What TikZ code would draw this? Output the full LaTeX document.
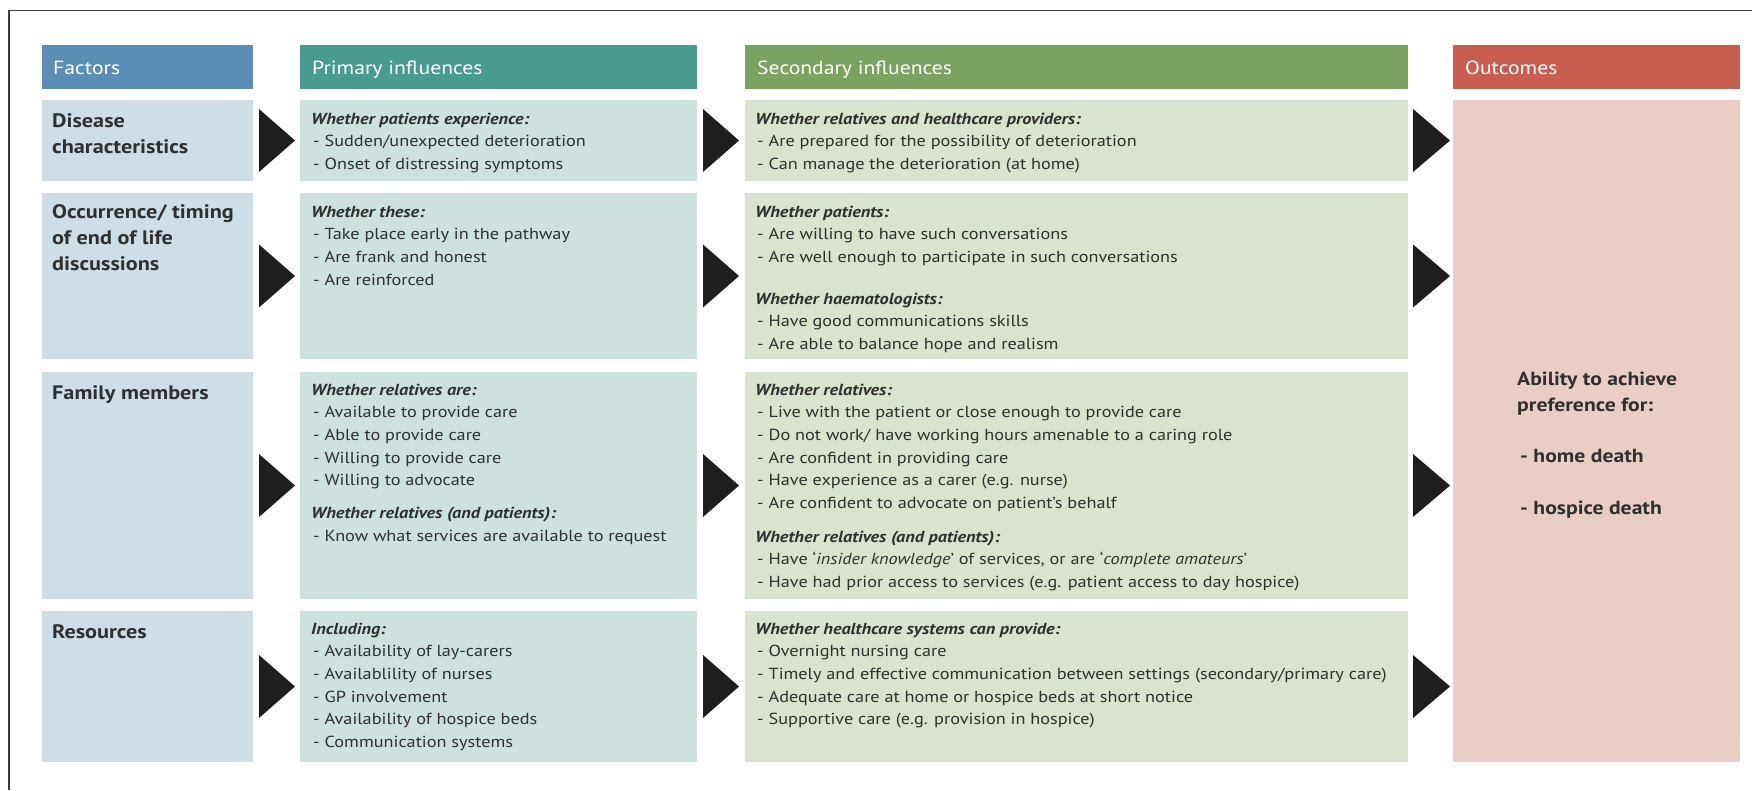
\documentclass[tikz,border=0pt]{standalone}
\usepackage{fontspec}
\setmainfont{PT Sans}[FakeStretch=1.14]
\definecolor{fhead}{HTML}{5B8EB6}
\definecolor{fbody}{HTML}{CFDDE7}
\definecolor{phead}{HTML}{4A9B8F}
\definecolor{pbody}{HTML}{CDE2DE}
\definecolor{shead}{HTML}{7AA260}
\definecolor{sbody}{HTML}{D9E3CF}
\definecolor{ohead}{HTML}{C75E50}
\definecolor{obody}{HTML}{EBCDC8}
\definecolor{txt}{HTML}{2F2F2F}
\definecolor{arrc}{HTML}{1E1E1E}
\definecolor{framec}{HTML}{3C3C3C}
\newcommand{\hd}[1]{\textbf{\textit{#1}}}
\begin{document}
\begin{tikzpicture}[x=1pt,y=-1pt,
  cell/.style={anchor=north west,inner sep=0,outer sep=0,draw=none},
  hdr/.style={anchor=base west,inner sep=0,text=white,font=\fontsize{19}{22}\selectfont},
  ttl/.style={anchor=base west,inner sep=0,text=txt,font=\fontsize{19.5}{26}\selectfont\bfseries},
  body/.style={anchor=base west,inner sep=0,text=txt,font=\fontsize{16}{22.7}\selectfont},
  outc/.style={anchor=base west,inner sep=0,text=txt,font=\fontsize{19}{26}\selectfont\bfseries},
  tri/.style={fill=arrc},
  framel/.style={draw=framec,line width=1.5pt}]
\useasboundingbox (0,0) rectangle (1752,790);
\fill[white] (0,0) rectangle (1752,790);
% frame
\coordinate (fbl) at (9,790);
\coordinate (ftl) at (9,10.7);
\coordinate (ftr) at (1752,10.7);
\draw[framel] (fbl) -- (ftl) -- (ftr);
% headers
\node[cell,fill=fhead,minimum width=211pt,minimum height=44pt] (fh) at (42,45) {};
\node[cell,fill=phead,minimum width=397pt,minimum height=44pt] (ph) at (300,45) {};
\node[cell,fill=shead,minimum width=663pt,minimum height=44pt] (sh) at (745,45) {};
\node[cell,fill=ohead,minimum width=287pt,minimum height=44pt] (oh) at (1453,45) {};
\node[hdr] (fht) at (53,74) {Factors};
\node[hdr] (pht) at (312,74) {Primary influences};
\node[hdr] (sht) at (757,74) {Secondary influences};
\node[hdr] (oht) at (1465,74) {Outcomes};
% factor cells
\node[cell,fill=fbody,minimum width=211pt,minimum height=81pt] (f1) at (42,100) {};
\node[cell,fill=fbody,minimum width=211pt,minimum height=166pt] (f2) at (42,193) {};
\node[cell,fill=fbody,minimum width=211pt,minimum height=227pt] (f3) at (42,372) {};
\node[cell,fill=fbody,minimum width=211pt,minimum height=151pt] (f4) at (42,611) {};
% primary cells
\node[cell,fill=pbody,minimum width=397pt,minimum height=81pt] (p1) at (300,100) {};
\node[cell,fill=pbody,minimum width=397pt,minimum height=166pt] (p2) at (300,193) {};
\node[cell,fill=pbody,minimum width=397pt,minimum height=227pt] (p3) at (300,372) {};
\node[cell,fill=pbody,minimum width=397pt,minimum height=151pt] (p4) at (300,611) {};
% secondary cells
\node[cell,fill=sbody,minimum width=663pt,minimum height=81pt] (s1) at (745,100) {};
\node[cell,fill=sbody,minimum width=663pt,minimum height=166pt] (s2) at (745,193) {};
\node[cell,fill=sbody,minimum width=663pt,minimum height=227pt] (s3) at (745,372) {};
\node[cell,fill=sbody,minimum width=663pt,minimum height=151pt] (s4) at (745,611) {};
% outcome cell
\node[cell,fill=obody,minimum width=287pt,minimum height=662pt] (o1) at (1453,100) {};
% arrows
\foreach \c in {140.5,276,485.5,686.5}{
  \fill[tri] (259,\c-31.5) -- (295,\c) -- (259,\c+31.5) -- cycle;
  \fill[tri] (703,\c-31.5) -- (739,\c) -- (703,\c+31.5) -- cycle;
  \fill[tri] (1413,\c-31.5) -- (1450,\c) -- (1413,\c+31.5) -- cycle;
}
% factor titles
\node[ttl] (f1t) at (52,127) {\begin{minipage}[t]{200pt}Disease\\characteristics\end{minipage}};
\node[ttl] (f2t) at (52,218) {\begin{minipage}[t]{200pt}Occurrence/ timing\\of end of life\\discussions\end{minipage}};
\node[ttl] (f3t) at (52,399) {Family members};
\node[ttl] (f4t) at (52,638) {Resources};
% primary texts
\node[body] (p1t) at (311,124) {\begin{minipage}[t]{390pt}\hd{Whether patients experience:}\\
\hspace*{2pt}- Sudden/unexpected deterioration\\
\hspace*{2pt}- Onset of distressing symptoms\end{minipage}};
\node[body] (p2t) at (311,217) {\begin{minipage}[t]{390pt}\hd{Whether these:}\\
\hspace*{2pt}- Take place early in the pathway\\
\hspace*{2pt}- Are frank and honest\\
\hspace*{2pt}- Are reinforced\end{minipage}};
\node[body] (p3t) at (311,395) {\begin{minipage}[t]{390pt}\hd{Whether relatives are:}\\
\hspace*{2pt}- Available to provide care\\
\hspace*{2pt}- Able to provide care\\
\hspace*{2pt}- Willing to provide care\\
\hspace*{2pt}- Willing to advocate\\[10pt]
\hd{Whether relatives (and patients):}\\
\hspace*{2pt}- Know what services are available to request\end{minipage}};
\node[body] (p4t) at (311,634) {\begin{minipage}[t]{390pt}\hd{Including:}\\
\hspace*{2pt}- Availability of lay-carers\\
\hspace*{2pt}- Availablility of nurses\\
\hspace*{2pt}- GP involvement\\
\hspace*{2pt}- Availability of hospice beds\\
\hspace*{2pt}- Communication systems\end{minipage}};
% secondary texts
\node[body] (s1t) at (755,124) {\begin{minipage}[t]{650pt}\hd{Whether relatives and healthcare providers:}\\
\hspace*{2pt}- Are prepared for the possibility of deterioration\\
\hspace*{2pt}- Can manage the deterioration (at home)\end{minipage}};
\node[body] (s2t) at (755,217) {\begin{minipage}[t]{650pt}\hd{Whether patients:}\\
\hspace*{2pt}- Are willing to have such conversations\\
\hspace*{2pt}- Are well enough to participate in such conversations\\[19pt]
\hd{Whether haematologists:}\\
\hspace*{2pt}- Have good communications skills\\
\hspace*{2pt}- Are able to balance hope and realism\end{minipage}};
\node[body] (s3t) at (755,395) {\begin{minipage}[t]{650pt}\hd{Whether relatives:}\\
\hspace*{2pt}- Live with the patient or close enough to provide care\\
\hspace*{2pt}- Do not work/ have working hours amenable to a caring role\\
\hspace*{2pt}- Are confident in providing care\\
\hspace*{2pt}- Have experience as a carer (e.g. nurse)\\
\hspace*{2pt}- Are confident to advocate on patient’s behalf\\[11pt]
\hd{Whether relatives (and patients):}\\
\hspace*{2pt}- Have ‘\textit{insider knowledge}’ of services, or are ‘\textit{complete amateurs}’\\
\hspace*{2pt}- Have had prior access to services (e.g. patient access to day hospice)\end{minipage}};
\node[body] (s4t) at (755,634) {\begin{minipage}[t]{650pt}\hd{Whether healthcare systems can provide:}\\
\hspace*{2pt}- Overnight nursing care\\
\hspace*{2pt}- Timely and effective communication between settings (secondary/primary care)\\
\hspace*{2pt}- Adequate care at home or hospice beds at short notice\\
\hspace*{2pt}- Supportive care (e.g. provision in hospice)\end{minipage}};
% outcomes text
\node[outc] (ot) at (1517,385) {\begin{minipage}[t]{220pt}Ability to achieve\\
preference for:\\[25pt]
\hspace*{3pt}- home death\\[26pt]
\hspace*{3pt}- hospice death\end{minipage}};
\end{tikzpicture}
\end{document}
